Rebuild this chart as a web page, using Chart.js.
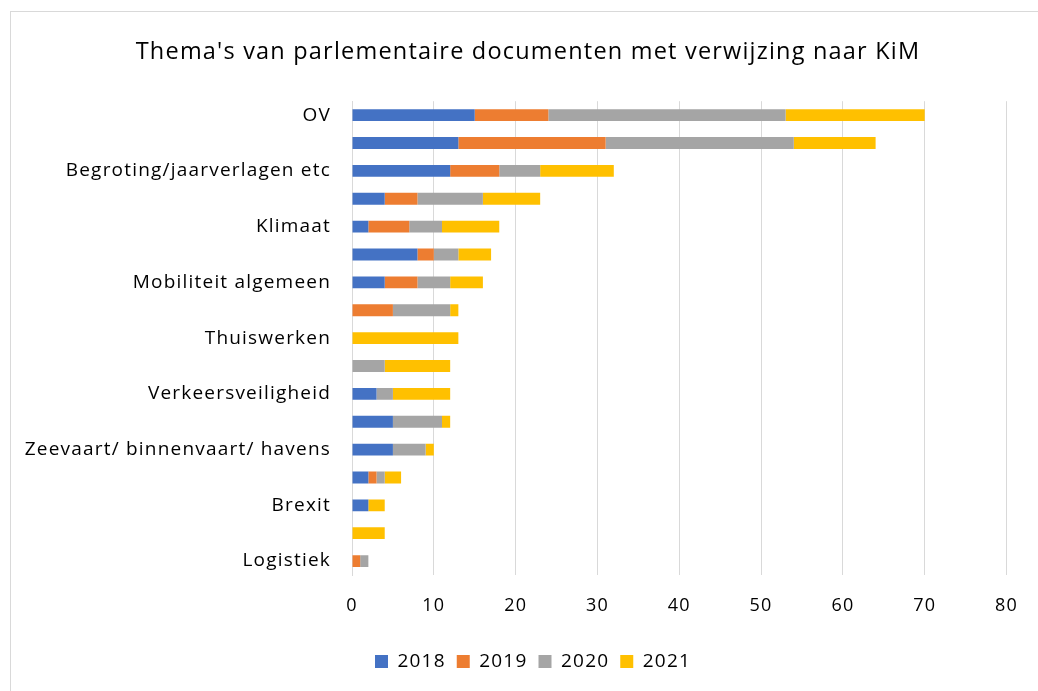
<!DOCTYPE html>
<html>
<head>
<meta charset="utf-8">
<script src="https://cdn.jsdelivr.net/npm/chart.js@4"></script>
<style>
  body { margin: 0; background: #fff; overflow: hidden; }
  #frame { position: absolute; left: 10px; top: 11px; width: 1100px; height: 760px; border: 1px solid #d9d9d9; }
  #wrap { position: absolute; left: 0; top: 0; width: 1038px; height: 691px; }
</style>
</head>
<body>
<div id="frame"></div>
<div id="wrap"><canvas id="chart" width="1038" height="691"></canvas></div>
<script>
// only every other theme is labelled in the picture
const themes = [
  'OV', '', 'Begroting/jaarverlagen etc', '', 'Klimaat', '', 'Mobiliteit algemeen', '',
  'Thuiswerken', '', 'Verkeersveiligheid', '', 'Zeevaart/ binnenvaart/ havens', '',
  'Brexit', '', 'Logistiek'
];
const years = ['2018', '2019', '2020', '2021'];
const docs2018 = [15, 13, 12, 4, 2, 8, 4, 0, 0, 0, 3, 5, 5, 2, 2, 0, 0];
const docs2019 = [9, 18, 6, 4, 5, 2, 4, 5, 0, 0, 0, 0, 0, 1, 0, 0, 1];
const docs2020 = [29, 23, 5, 8, 4, 3, 4, 7, 0, 4, 2, 6, 4, 1, 0, 0, 1];
const docs2021 = [17, 10, 9, 7, 7, 4, 4, 1, 13, 8, 7, 1, 1, 2, 2, 4, 0];
const colors = ['#4472c4', '#ed7d31', '#a5a5a5', '#ffc000'];
const xTicks = [0, 10, 20, 30, 40, 50, 60, 70, 80];

const font = "'Open Sans', sans-serif";
const series = [docs2018, docs2019, docs2020, docs2021];

// the office-style text is a bit wider spaced
const spacing = {
  id: 'spacing',
  beforeLayout(chart) { chart.ctx.letterSpacing = '1.2px'; },
  beforeDraw(chart) { chart.ctx.letterSpacing = '1.2px'; },
  afterLayout(chart) {
    // title and legend sit centred on the whole frame, not on the padded box
    chart.titleBlock.left += 14;
    chart.titleBlock.right += 14;
    chart.legend.left += 19;
    chart.legend.right += 19;
  }
};

new Chart(document.getElementById('chart'), {
  type: 'bar',
  data: {
    labels: themes,
    datasets: series.map((d, i) => ({
      label: years[i],
      data: d,
      backgroundColor: colors[i],
      borderWidth: 0,
      barPercentage: 0.85,
      categoryPercentage: 0.5
    }))
  },
  options: {
    indexAxis: 'y',
    responsive: false,
    animation: false,
    layout: { padding: { left: 20, right: 30, top: 0, bottom: 10 } },
    scales: {
      x: {
        stacked: true,
        min: 0,
        max: 80,
        afterBuildTicks: s => { s.ticks = xTicks.map(v => ({ value: v })); },
        afterFit: s => { s.height = 66; },
        grid: { color: '#d9d9d9', lineWidth: 1, drawTicks: false },
        border: { display: false },
        ticks: { padding: 20, color: '#000', font: { family: font, size: 18 } }
      },
      y: {
        stacked: true,
        afterFit: s => { s.width = 332; },
        grid: { display: false, drawTicks: false },
        border: { display: true, color: '#d9d9d9' },
        ticks: { autoSkip: false, padding: 21, color: '#000', font: { family: font, size: 19 } }
      }
    },
    plugins: {
      title: {
        display: true,
        text: "Thema's van parlementaire documenten met verwijzing naar KiM",
        color: '#000',
        font: { family: font, size: 23.5, weight: 'normal' },
        padding: { top: 38, bottom: 35 }
      },
      legend: {
        position: 'bottom',
        labels: { color: '#000', boxWidth: 13, boxHeight: 13, padding: 11, font: { family: font, size: 19 } }
      },
      tooltip: { enabled: false }
    }
  },
  plugins: [spacing]
});
</script>
</body>
</html>
